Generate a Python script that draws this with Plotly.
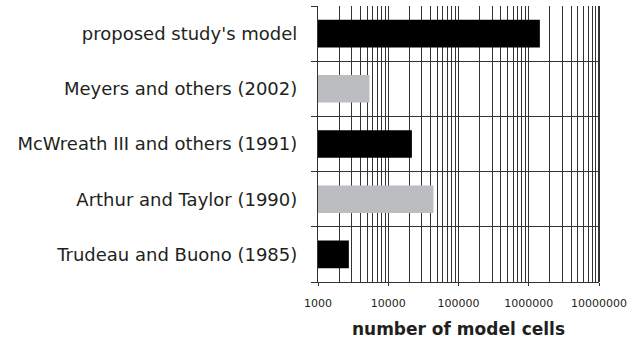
import plotly.graph_objects as go

categories = ["Trudeau and Buono (1985)", "Arthur and Taylor (1990)",
              "McWreath III and others (1991)", "Meyers and others (2002)",
              "proposed study's model"]
cells = [2750, 44000, 21700, 5400, 1440000]
bar_colors = ["#000000", "#bcbdc1", "#000000", "#bcbdc1", "#000000"]
tick_vals = [1000, 10000, 100000, 1000000, 10000000]
tick_text = ["1000", "10000", "100000", "1000000", "10000000"]

minor_vals = [m * 10 ** e for e in range(3, 7) for m in range(2, 10)]

fig = go.Figure(go.Bar(
    x=cells, y=categories, orientation="h",
    marker=dict(color=bar_colors, line=dict(width=0)),
    width=0.5,
))

grid_col = "#333333"
gw = 1.2
fig.update_layout(
    width=640, height=339,
    margin=dict(l=318, r=41, t=6, b=57, autoexpand=False),
    paper_bgcolor="white", plot_bgcolor="white",
    font=dict(family="DejaVu Sans, sans-serif", color="#231f20"),
    showlegend=False,
    xaxis=dict(
        type="log", range=[3, 7], automargin=False,
        tickvals=tick_vals, ticktext=tick_text,
        tickfont=dict(size=11),
        showgrid=True, gridcolor=grid_col, gridwidth=gw,
        minor=dict(tickvals=minor_vals, showgrid=True, gridcolor=grid_col, gridwidth=gw),
        showline=True, linecolor=grid_col, linewidth=gw,
        ticks="outside", ticklen=3, tickcolor=grid_col,
        ticklabelstandoff=8,
        zeroline=False,
        title=dict(text="<b>number of model cells</b>", font=dict(size=17), standoff=16),
    ),
    yaxis=dict(
        type="category", tickson="boundaries", automargin=False,
        showgrid=True, gridcolor=grid_col, gridwidth=gw,
        ticks="outside", ticklen=6, tickcolor=grid_col, tickwidth=gw,
        showline=True, linecolor=grid_col, linewidth=gw,
        tickfont=dict(size=18),
        ticklabelstandoff=16,
        range=[-0.5, 4.5],
    ),
)
fig.add_shape(type="line", xref="paper", yref="paper", x0=1, x1=1, y0=0, y1=1,
              line=dict(color=grid_col, width=2))

fig.write_html("out.html", config={"displayModeBar": False},
               post_script="document.body.style.margin='0';document.body.style.padding='0';")
